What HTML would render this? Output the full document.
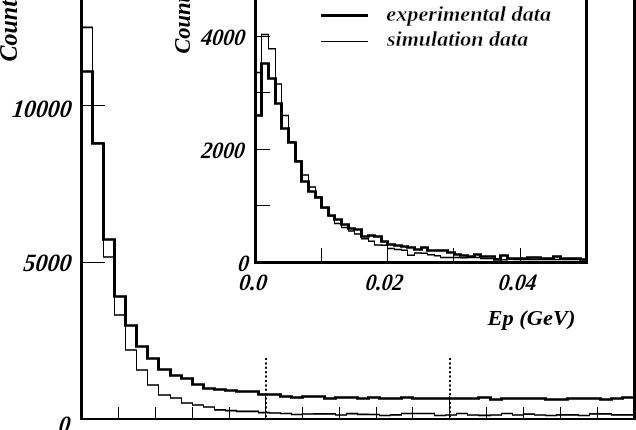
<!DOCTYPE html>
<html><head><meta charset="utf-8"><style>
html,body{margin:0;padding:0;background:#fff;overflow:hidden}
svg{display:block;will-change:transform}
text{font-family:'Liberation Serif',serif;font-style:italic;font-weight:bold;fill:#000}
.thin{stroke:#fff;stroke-width:0.3px}
</style></head><body>
<svg width="636" height="430" viewBox="0 0 636 430">
<rect width="636" height="430" fill="#fff"/>
<g fill="none" stroke="#000" stroke-linejoin="miter" stroke-linecap="butt">
<path d="M81.5 0 V420" stroke-width="3"/>
<path d="M80 419 H636" stroke-width="2"/>
<path d="M634.5 0 V420" stroke-width="3"/>
<path d="M118.5 407 V418 M155.5 407 V418 M192.5 407 V418 M229.5 407 V418 M265.5 407 V418 M302.5 407 V418 M339.5 407 V418 M376.5 407 V418 M412.5 407 V418 M449.5 407 V418 M486.5 407 V418 M523.5 407 V418 M560.5 407 V418 M597.5 407 V418 " stroke-width="1"/>
<path d="M83 105.5 H105 M83 262.5 H105" stroke-width="1"/>
<path d="M266 358 V418 M450 358 V418" stroke-width="2" stroke-dasharray="2 2.4"/>
<path d="M265.5 396 V418 M449.5 396 V418" stroke-width="1"/>
<path d="M81.5 419 V27.4 M92.5 27.4 V143 M103.5 143 V257 M114.5 257 V315 M125.5 315 V350 M136.5 350 V370 M147.5 370 V385 M158.5 385 V395 M170.5 395 V398 M181.5 398 V403 M192.5 403 V405 M203.5 405 V407 M214.5 407 V409.8 M225.5 409.8 V410.6 M236.5 410.6 V411.3 M247.5 411.3 V411.3 M258.5 411.3 V412.7 M269.5 412.7 V413 M280.5 413 V413.5 M291.5 413.5 V414.5 M302.5 414.5 V414 M313.5 414 V413.8 M324.5 413.8 V413.8 M335.5 413.8 V415 M346.5 415 V413.6 M357.5 413.6 V414.4 M368.5 414.4 V414.5 M379.5 414.5 V415.5 M390.5 415.5 V414.8 M401.5 414.8 V413.5 M412.5 413.5 V413.5 M423.5 413.5 V413.5 M434.5 413.5 V415.5 M445.5 415.5 V415 M456.5 415 V413.5 M467.5 413.5 V415 M478.5 415 V415.4 M490.5 415.4 V415 M501.5 415 V413.5 M512.5 413.5 V415 M523.5 415 V414.2 M534.5 414.2 V415 M545.5 415 V415.5 M556.5 415.5 V414.8 M567.5 414.8 V414.8 M578.5 414.8 V415.5 M589.5 415.5 V413.8 M600.5 413.8 V413.8 M611.5 413.8 V414.9 M622.5 414.9 V414.9" stroke-width="1"/><path d="M81.0 27.4 H93.0 M92.0 143 H104.0 M103.0 257 H115.0 M114.0 315 H126.0 M125.0 350 H137.0 M136.0 370 H148.0 M147.0 385 H159.0 M158.0 395 H171.0 M170.0 398 H182.0 M181.0 403 H193.0 M192.0 405 H204.0 M203.0 407 H215.0 M214.0 409.8 H226.0 M225.0 410.6 H237.0 M236.0 411.3 H248.0 M247.0 411.3 H259.0 M258.0 412.7 H270.0 M269.0 413 H281.0 M280.0 413.5 H292.0 M291.0 414.5 H303.0 M302.0 414 H314.0 M313.0 413.8 H325.0 M324.0 413.8 H336.0 M335.0 415 H347.0 M346.0 413.6 H358.0 M357.0 414.4 H369.0 M368.0 414.5 H380.0 M379.0 415.5 H391.0 M390.0 414.8 H402.0 M401.0 413.5 H413.0 M412.0 413.5 H424.0 M423.0 413.5 H435.0 M434.0 415.5 H446.0 M445.0 415 H457.0 M456.0 413.5 H468.0 M467.0 415 H479.0 M478.0 415.4 H491.0 M490.0 415 H502.0 M501.0 413.5 H513.0 M512.0 415 H524.0 M523.0 414.2 H535.0 M534.0 415 H546.0 M545.0 415.5 H557.0 M556.0 414.8 H568.0 M567.0 414.8 H579.0 M578.0 415.5 H590.0 M589.0 413.8 H601.0 M600.0 413.8 H612.0 M611.0 414.9 H623.0 M622.0 414.9 H634.0 " stroke-width="1.7"/>
<path d="M81.5 419 V71.5 M92.5 71.5 V143.5 M103.5 143.5 V239.5 M114.5 239.5 V296.5 M125.5 296.5 V325.5 M136.5 325.5 V346.5 M147.5 346.5 V358.5 M158.5 358.5 V369.5 M170.5 369.5 V375.5 M181.5 375.5 V378.5 M192.5 378.5 V384.5 M203.5 384.5 V388.5 M214.5 388.5 V389.5 M225.5 389.5 V390.5 M236.5 390.5 V391.5 M247.5 391.5 V391.5 M258.5 391.5 V394.5 M269.5 394.5 V394.5 M280.5 394.5 V396.5 M291.5 396.5 V397.5 M302.5 397.5 V396.5 M313.5 396.5 V396.5 M324.5 396.5 V398.5 M335.5 398.5 V397.5 M346.5 397.5 V397.5 M357.5 397.5 V398.5 M368.5 398.5 V397.5 M379.5 397.5 V398.5 M390.5 398.5 V398.5 M401.5 398.5 V397.5 M412.5 397.5 V398.5 M423.5 398.5 V398.5 M434.5 398.5 V398.5 M445.5 398.5 V398.5 M456.5 398.5 V398.5 M467.5 398.5 V398.5 M478.5 398.5 V397.5 M490.5 397.5 V399.5 M501.5 399.5 V398.5 M512.5 398.5 V398.5 M523.5 398.5 V398.5 M534.5 398.5 V398.5 M545.5 398.5 V399.5 M556.5 399.5 V399.5 M567.5 399.5 V398.5 M578.5 398.5 V398.5 M589.5 398.5 V398.5 M600.5 398.5 V399.5 M611.5 399.5 V398.5 M622.5 398.5 V397.5" stroke-width="3"/><path d="M80.0 71.5 H94.0 M91.0 143.5 H105.0 M102.0 239.5 H116.0 M113.0 296.5 H127.0 M124.0 325.5 H138.0 M135.0 346.5 H149.0 M146.0 358.5 H160.0 M157.0 369.5 H172.0 M169.0 375.5 H183.0 M180.0 378.5 H194.0 M191.0 384.5 H205.0 M202.0 388.5 H216.0 M213.0 389.5 H227.0 M224.0 390.5 H238.0 M235.0 391.5 H249.0 M246.0 391.5 H260.0 M257.0 394.5 H271.0 M268.0 394.5 H282.0 M279.0 396.5 H293.0 M290.0 397.5 H304.0 M301.0 396.5 H315.0 M312.0 396.5 H326.0 M323.0 398.5 H337.0 M334.0 397.5 H348.0 M345.0 397.5 H359.0 M356.0 398.5 H370.0 M367.0 397.5 H381.0 M378.0 398.5 H392.0 M389.0 398.5 H403.0 M400.0 397.5 H414.0 M411.0 398.5 H425.0 M422.0 398.5 H436.0 M433.0 398.5 H447.0 M444.0 398.5 H458.0 M455.0 398.5 H469.0 M466.0 398.5 H480.0 M477.0 397.5 H492.0 M489.0 399.5 H503.0 M500.0 398.5 H514.0 M511.0 398.5 H525.0 M522.0 398.5 H536.0 M533.0 398.5 H547.0 M544.0 399.5 H558.0 M555.0 399.5 H569.0 M566.0 398.5 H580.0 M577.0 398.5 H591.0 M588.0 398.5 H602.0 M599.0 399.5 H613.0 M610.0 398.5 H624.0 M621.0 397.5 H635.0 " stroke-width="2.7"/>
<path d="M255.5 0 V264" stroke-width="3"/>
<path d="M254 262.5 H588" stroke-width="3"/>
<path d="M586.5 0 V264" stroke-width="3"/>
<path d="M321.5 248 V261 M387.5 248 V261 M453.5 248 V261 M520.5 248 V261 " stroke-width="1"/>
<path d="M257 36.5 H270 M257 92.5 H270 M257 149.5 H270 M257 205.5 H270" stroke-width="1"/>
<path d="M255.5 262.5 V72.5 M261.5 72.5 V34.5 M268.5 34.5 V48.8 M275.5 48.8 V84 M281.5 84 V115.5 M288.5 115.5 V142 M295.5 142 V161 M301.5 161 V175 M308.5 175 V187 M315.5 187 V197 M321.5 197 V207.7 M328.5 207.7 V215.8 M334.5 215.8 V223.4 M341.5 223.4 V227.5 M348.5 227.5 V231 M354.5 231 V234 M361.5 234 V238.8 M368.5 238.8 V241.2 M374.5 241.2 V245 M381.5 245 V245.2 M387.5 245.2 V248.5 M394.5 248.5 V249.5 M401.5 249.5 V250.3 M407.5 250.3 V255.2 M414.5 255.2 V253 M421.5 253 V253.3 M427.5 253.3 V254.7 M434.5 254.7 V255.7 M440.5 255.7 V257.5 M447.5 257.5 V257.5 M454.5 257.5 V257.5 M460.5 257.5 V257.7 M467.5 257.7 V257.4 M474.5 257.4 V257.4 M480.5 257.4 V258.4 M487.5 258.4 V258.4 M494.5 258.4 V258.8 M500.5 258.8 V259.8 M507.5 259.8 V259 M513.5 259 V259.5 M520.5 259.5 V259.5 M527.5 259.5 V259.5 M533.5 259.5 V259.5 M540.5 259.5 V259.5 M547.5 259.5 V259.5 M553.5 259.5 V259.5 M560.5 259.5 V259.5 M566.5 259.5 V259.5 M573.5 259.5 V259.5 M580.5 259.5 V259.5" stroke-width="1"/><path d="M255.0 72.5 H262.0 M261.0 34.5 H269.0 M268.0 48.8 H276.0 M275.0 84 H282.0 M281.0 115.5 H289.0 M288.0 142 H296.0 M295.0 161 H302.0 M301.0 175 H309.0 M308.0 187 H316.0 M315.0 197 H322.0 M321.0 207.7 H329.0 M328.0 215.8 H335.0 M334.0 223.4 H342.0 M341.0 227.5 H349.0 M348.0 231 H355.0 M354.0 234 H362.0 M361.0 238.8 H369.0 M368.0 241.2 H375.0 M374.0 245 H382.0 M381.0 245.2 H388.0 M387.0 248.5 H395.0 M394.0 249.5 H402.0 M401.0 250.3 H408.0 M407.0 255.2 H415.0 M414.0 253 H422.0 M421.0 253.3 H428.0 M427.0 254.7 H435.0 M434.0 255.7 H441.0 M440.0 257.5 H448.0 M447.0 257.5 H455.0 M454.0 257.5 H461.0 M460.0 257.7 H468.0 M467.0 257.4 H475.0 M474.0 257.4 H481.0 M480.0 258.4 H488.0 M487.0 258.4 H495.0 M494.0 258.8 H501.0 M500.0 259.8 H508.0 M507.0 259 H514.0 M513.0 259.5 H521.0 M520.0 259.5 H528.0 M527.0 259.5 H534.0 M533.0 259.5 H541.0 M540.0 259.5 H548.0 M547.0 259.5 H554.0 M553.0 259.5 H561.0 M560.0 259.5 H567.0 M566.0 259.5 H574.0 M573.0 259.5 H581.0 M580.0 259.5 H587.0 " stroke-width="1.5"/>
<path d="M255.5 262.5 V115.5 M261.5 115.5 V63.5 M268.5 63.5 V78.5 M275.5 78.5 V103.5 M281.5 103.5 V128.5 M288.5 128.5 V142.5 M295.5 142.5 V161.5 M301.5 161.5 V181.5 M308.5 181.5 V191.5 M315.5 191.5 V197.5 M321.5 197.5 V207.5 M328.5 207.5 V215.5 M334.5 215.5 V219.5 M341.5 219.5 V224.5 M348.5 224.5 V228.5 M354.5 228.5 V229.5 M361.5 229.5 V236.5 M368.5 236.5 V235.5 M374.5 235.5 V236.5 M381.5 236.5 V241.5 M387.5 241.5 V244.5 M394.5 244.5 V245.5 M401.5 245.5 V246.5 M407.5 246.5 V247.5 M414.5 247.5 V249.5 M421.5 249.5 V247.5 M427.5 247.5 V250.5 M434.5 250.5 V250.5 M440.5 250.5 V250.5 M447.5 250.5 V252.5 M454.5 252.5 V254.5 M460.5 254.5 V255.5 M467.5 255.5 V256.5 M474.5 256.5 V254.5 M480.5 254.5 V256.5 M487.5 256.5 V256.5 M494.5 256.5 V259.5 M500.5 259.5 V255.5 M507.5 255.5 V258.5 M513.5 258.5 V258.5 M520.5 258.5 V258.5 M527.5 258.5 V257.5 M533.5 257.5 V257.5 M540.5 257.5 V258.5 M547.5 258.5 V258.5 M553.5 258.5 V256.5 M560.5 256.5 V258.5 M566.5 258.5 V258.5 M573.5 258.5 V258.5 M580.5 258.5 V259.5" stroke-width="3"/><path d="M254.0 115.5 H263.0 M260.0 63.5 H270.0 M267.0 78.5 H277.0 M274.0 103.5 H283.0 M280.0 128.5 H290.0 M287.0 142.5 H297.0 M294.0 161.5 H303.0 M300.0 181.5 H310.0 M307.0 191.5 H317.0 M314.0 197.5 H323.0 M320.0 207.5 H330.0 M327.0 215.5 H336.0 M333.0 219.5 H343.0 M340.0 224.5 H350.0 M347.0 228.5 H356.0 M353.0 229.5 H363.0 M360.0 236.5 H370.0 M367.0 235.5 H376.0 M373.0 236.5 H383.0 M380.0 241.5 H389.0 M386.0 244.5 H396.0 M393.0 245.5 H403.0 M400.0 246.5 H409.0 M406.0 247.5 H416.0 M413.0 249.5 H423.0 M420.0 247.5 H429.0 M426.0 250.5 H436.0 M433.0 250.5 H442.0 M439.0 250.5 H449.0 M446.0 252.5 H456.0 M453.0 254.5 H462.0 M459.0 255.5 H469.0 M466.0 256.5 H476.0 M473.0 254.5 H482.0 M479.0 256.5 H489.0 M486.0 256.5 H496.0 M493.0 259.5 H502.0 M499.0 255.5 H509.0 M506.0 258.5 H515.0 M512.0 258.5 H522.0 M519.0 258.5 H529.0 M526.0 257.5 H535.0 M532.0 257.5 H542.0 M539.0 258.5 H549.0 M546.0 258.5 H555.0 M552.0 256.5 H562.0 M559.0 258.5 H568.0 M565.0 258.5 H575.0 M572.0 258.5 H582.0 M579.0 259.5 H588.0 " stroke-width="2.5"/>
<path d="M321 15.5 H368" stroke-width="3"/>
<path d="M321 41.5 H368" stroke-width="1"/>
</g>
<text transform="translate(70.8 116.5) skewX(-7) scale(0.95 1)" font-size="25" text-anchor="end">10000</text><text transform="translate(70.8 271) skewX(-7) scale(0.96 1)" font-size="25" text-anchor="end">5000</text><text transform="translate(69.5 432.5) skewX(-7) scale(0.92 1)" font-size="25" text-anchor="end">0</text><text transform="translate(17 61.5) rotate(-90) scale(0.96 1)" font-size="25" text-anchor="start">Count</text><text transform="translate(244.6 44.9) skewX(-7) scale(0.94 1)" font-size="23.5" text-anchor="end">4000</text><text transform="translate(244 158) skewX(-7) scale(0.92 1)" font-size="23.5" text-anchor="end">2000</text><text transform="translate(248.3 271) skewX(-7) scale(0.92 1)" font-size="23.5" text-anchor="end">0</text><text transform="translate(190 53.8) rotate(-90) scale(0.96 1)" font-size="23.5" text-anchor="start">Count</text><text transform="translate(238.5 290.4) skewX(-7) scale(0.95 1)" font-size="23.5" text-anchor="start">0.0</text><text transform="translate(365 290.2) skewX(-7) scale(0.91 1)" font-size="23.5" text-anchor="start">0.02</text><text transform="translate(498 290.2) skewX(-7) scale(0.92 1)" font-size="23.5" text-anchor="start">0.04</text><text transform="translate(487.5 324.6) scale(1.02 1)" font-size="22" text-anchor="start">Ep (GeV)</text><text class="thin" transform="translate(386.3 20.8) scale(1.01 1)" font-size="22" text-anchor="start">experimental data</text><text class="thin" transform="translate(387 46.2) scale(1.0 1)" font-size="22" text-anchor="start">simulation data</text>
</svg>
</body></html>
